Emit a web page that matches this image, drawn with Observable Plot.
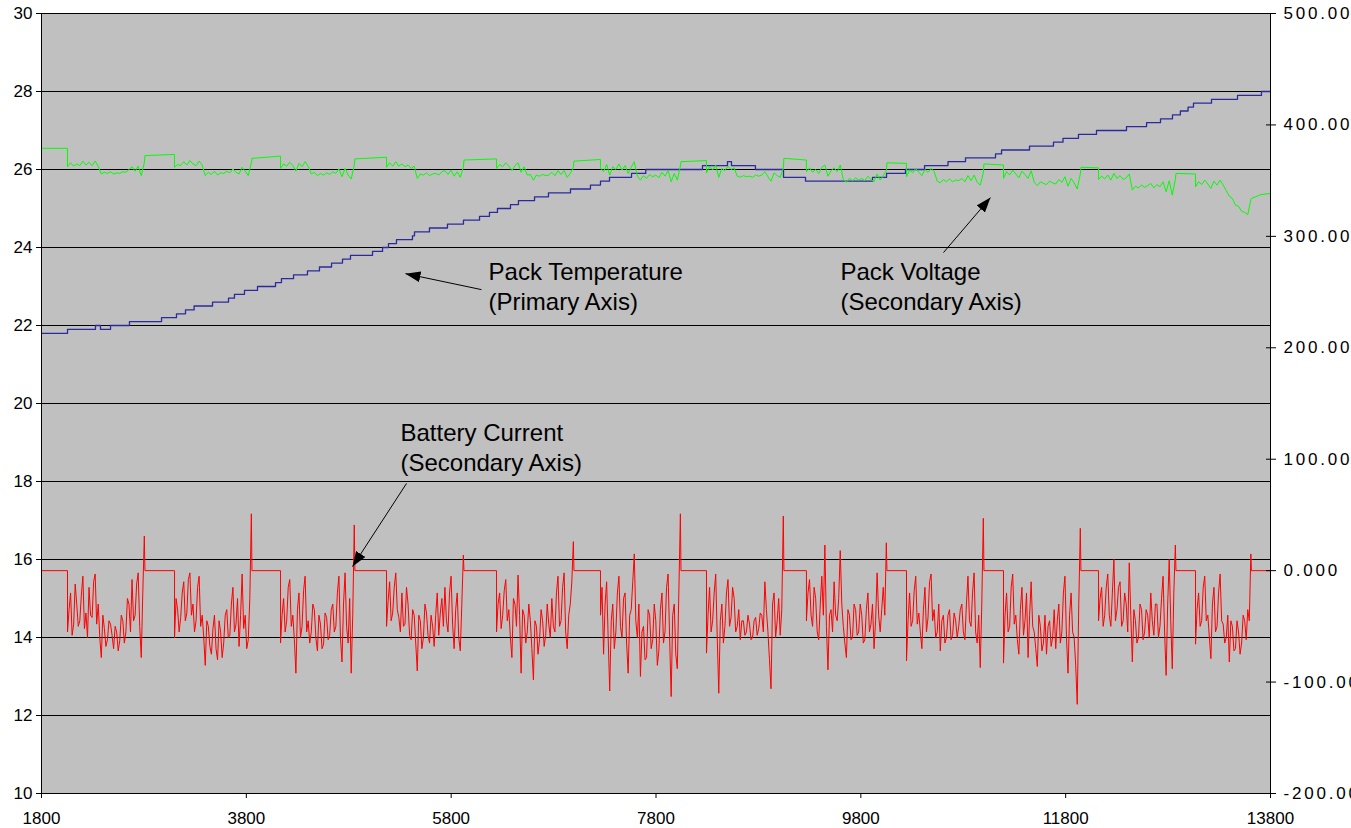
<!DOCTYPE html>
<html>
<head>
<meta charset="utf-8">
<script src="https://cdn.jsdelivr.net/npm/d3@7"></script>
<script src="https://cdn.jsdelivr.net/npm/@observablehq/plot@0.6"></script>
<style>
html, body { margin: 0; padding: 0; background: #ffffff; }
#chart { width: 1351px; height: 828px; overflow: hidden; }
</style>
</head>
<body>
<div id="chart"></div>
<script>
// ---------- axes / ticks ----------
const xTicks = [1800, 3800, 5800, 7800, 9800, 11800, 13800];
const leftTicks = [10, 12, 14, 16, 18, 20, 22, 24, 26, 28, 30];
const rightTicks = [-200, -100, 0, 100, 200, 300, 400, 500];

// ---------- Pack Temperature (primary axis), step changes [time, degC] ----------
const tempSteps = [
  [1800,21.8],[2054,21.9],[2327,22.0],[2376,21.9],[2474,22.0],[2659,22.1],[2972,22.2],[3118,22.3],
  [3206,22.4],[3290,22.5],[3470,22.6],[3626,22.7],[3684,22.8],[3782,22.9],[3909,23.0],[4085,23.1],
  [4143,23.2],[4261,23.3],[4397,23.4],[4514,23.5],[4632,23.6],[4739,23.7],[4817,23.8],[5032,23.9],
  [5130,24.0],[5188,24.1],[5266,24.2],[5422,24.3],[5442,24.4],[5588,24.5],[5764,24.6],[5920,24.7],
  [6077,24.8],[6174,24.9],[6252,25.0],[6379,25.1],[6457,25.2],[6614,25.3],[6750,25.4],[6965,25.5],
  [7160,25.6],[7258,25.7],[7346,25.8],[7561,25.9],[7700,26.0],[8254,26.1],[8498,26.2],[8537,26.1],
  [8771,26.0],[9045,25.8],[9260,25.7],[9914,25.8],[10051,25.9],[10236,26.0],[10422,26.1],[10651,26.2],
  [10822,26.3],[11115,26.4],[11174,26.5],[11447,26.6],[11681,26.7],[11774,26.8],[11925,26.9],[12101,27.0],
  [12394,27.1],[12590,27.2],[12726,27.3],[12843,27.4],[12920,27.5],[12995,27.6],[13048,27.7],[13224,27.8],
  [13478,27.9],[13712,28.0],[13800,28.0]
];

// ---------- drive periods (secondary axis series) ----------
const driveStart = [2054, 3099, 4134, 5169, 6243, 7258, 8293, 9269, 10246, 11193, 12121, 13068];

// battery current [A], one reading every 15 s during each drive
const currentStep = 15;
const driveCurrent = [
  [-55,-35,-20,-58,-48,-12,-30,-50,-45,-22,-5,-52,-38,-60,-15,-40,-42,-10,-3,-48,-30,-60,-78,-40,-52,-68,-62,-45,-48,-58,-70,-50,-55,-72,-63,-40,-45,-65,-55,-25,-30,-55,-8,-45,-40,-12,-2,-50,-78,-20,31],
  [-60,-25,-35,-55,-42,-20,-10,-45,-38,-8,-2,-40,-30,-55,-45,-15,-5,-50,-40,-60,-85,-45,-50,-68,-75,-52,-40,-70,-80,-45,-55,-78,-65,-40,-35,-60,-58,-30,-15,-55,-48,-25,-68,-40,-3,-52,-40,-70,-62,-25,51],
  [-65,-40,-25,-55,-45,-15,-8,-50,-40,-62,-92,-35,-20,-60,-50,-18,-5,-55,-45,-65,-55,-30,-35,-60,-72,-40,-48,-70,-66,-38,-42,-62,-58,-35,-30,-55,-50,-20,-5,-60,-82,-30,-2,-50,-65,-25,-92,-40,41],
  [-50,-28,-10,-45,-38,-15,-2,-35,-42,-55,-20,-50,-48,-15,-30,-58,-62,-35,-40,-65,-90,-40,-45,-70,-60,-30,-38,-58,-65,-40,-50,-68,-40,-20,-58,-38,-25,-50,-15,-45,-55,-20,-5,-48,-70,-35,-20,-60,-72,-30,14],
  [-55,-30,-20,-52,-40,-18,-8,-45,-35,-60,-78,-25,-30,-50,-4,-40,-92,-35,-40,-65,-55,-30,-45,-70,-98,-45,-50,-75,-62,-35,-45,-68,-58,-30,-48,-60,-25,-50,-55,-20,-5,-50,-45,-15,-2,-55,-70,-40,-30,-10,26],
  [-40,-15,-75,-30,-10,-60,-108,-45,-30,-70,-55,-20,-5,-50,-60,-25,-20,-65,-92,-40,-35,-10,15,-45,-60,-30,-95,-55,-50,-80,-78,-35,-40,-70,-62,-30,-45,-85,-72,-35,-20,-65,-55,-15,-3,-60,-113,-40,-30,-75,-88,-20,51],
  [-74,-40,-15,-55,-45,-20,-3,-60,-110,-45,-30,-65,-50,-20,-8,-50,-42,-15,-25,-55,-50,-35,-62,-45,-45,-58,-55,-40,-48,-62,-60,-45,-42,-58,-52,-38,-40,-55,-10,-35,-55,-80,-106,-30,-20,-60,-45,-25,-58,-35,49],
  [-45,-20,-8,-40,-50,-15,-25,-55,-62,-30,-5,-40,23,-50,-89,-40,-35,-55,-10,-40,-45,-25,18,-30,-50,-65,-78,-35,-40,-62,-60,-30,-35,-58,-55,-30,-40,-65,-62,-35,-20,-55,-48,-30,-70,-45,-2,-40,-55,-35,-15,-40,25],
  [-81,-45,-20,-50,-45,-18,-5,-48,-38,-55,-70,-35,-15,-55,-42,-10,-3,-45,-35,-60,-55,-30,-72,-45,-40,-65,-60,-40,-35,-62,-58,-38,-45,-60,-50,-35,-30,-55,-62,-30,-5,-45,-50,-20,-2,-55,-65,-40,-87,-30,47],
  [-83,-40,-20,-55,-50,-15,-3,-48,-40,-62,-75,-35,-15,-58,-45,-20,-78,-40,-10,-50,-55,-70,-86,-40,-50,-72,-65,-40,-75,-50,-45,-68,-60,-35,-70,-45,-30,-65,-55,-20,-5,-60,-92,-40,-20,-55,-60,-85,-120,-30,38],
  [-45,-25,-15,-50,-40,-15,-3,-40,-50,-20,10,-45,-35,-15,-10,-50,-45,-20,-30,-55,7,-40,-82,-35,-45,-65,-60,-30,-35,-62,-55,-35,-40,-60,-20,-45,-58,-30,-30,-60,-50,-25,-5,-55,-94,-30,10,-45,-88,-20,23],
  [-66,-35,-20,-50,-45,-15,-5,-45,-40,-60,-79,-30,-15,-55,-50,-20,-3,-45,-48,-65,-60,-40,-82,-45,-50,-72,-70,-45,-55,-75,-65,-40,-45,-62,-35,-45,15]
];

// pack voltage [V], one reading every 30 s during each drive
const voltageStep = 30;
const driveVoltage = [
  [362.5,366,363,365,363.5,367.5,364,366.5,363.5,367.5,363,356,357.5,356.5,358,356,357,356.5,358,357.5,360,362.5,358.5,363,354.5,366],
  [362,364.5,363.5,367,364,368,365,363.5,367.5,364,354.5,357.5,355.5,358.5,355,357,356.5,358.5,357,360.5,357.5,356,362,358.5,354.5,366],
  [361,365,363,366.5,363.5,358.5,365.5,362.5,367,363,356,357.5,354.5,356.5,355,357,355.5,358,356.5,360.5,353.5,361,355,351.5,364],
  [362,366,363,367,363,365,362.5,364,361,363,352,356,355,357,354.5,356,356.5,355,358,359,355.5,359.5,354,358,353,362],
  [361,364.5,362.5,366,363,359,363.5,366,357.5,362.5,355,355.5,350.5,355,354,355.5,354.5,355,357.5,354.5,359,355.5,359,353,356.5,362],
  [361.5,358,364.5,355,362.5,360,365,359.5,363.5,356.5,362,367,354,350.5,354.5,352,355.5,353.5,355,352.5,357.5,354,359,349,356.5,350.5,363],
  [357,362.5,359.5,364,353,361,359,363,360,361.5,354,353,354.5,353.5,354,353,355,354,355,358,353.5,349.5,357,354.5,353,361],
  [358,361.5,357.5,360,356.5,362,364,354,359,361.5,358,364,351,348.5,352,350,352.5,350.5,352,350,354,351,349,356,350.5,354.5,359],
  [353.5,359.5,357,361,357.5,354.5,360,357.5,361,358,349.5,348,351,349,351.5,349,350.5,350,352,349,354.5,350,355,348.5,346,357],
  [352,358,355,359.5,356,352.5,358.5,355.5,352,359,348.5,345.5,349,347.5,346.5,349.5,348,347,351,348.5,353.5,345,352,348,342.5,356],
  [351,354,351.5,355,350.5,356.5,352,354.5,351,352.5,356,341.5,345,343.5,346,344,345.5,347.5,343.5,346.5,344.5,349,340,350,337,351],
  [344.5,349,346.5,350.5,347,343,349.5,346,350.5,346,341,336,334,328,327,322.5,321.5,319.5,333]
];

// pack voltage during rest periods (before, between and after drives)
const restVoltage = [
  [379,379],[372.5,373.5],[370,372],[369.5,371],[368.5,369.5],[367.5,369],[367,368],
  [370,368.5],[366,365.5],[365,364],[362,361.5],[356.5,356],[334,337.5,338.5]
];

// ---------- annotations ----------
const noteText = ["Pack Temperature\n(Primary Axis)", "Pack Voltage\n(Secondary Axis)", "Battery Current\n(Secondary Axis)"];
const noteX = [6165, 9601, 5305];
const noteY = [23.03, 23.03, 18.90];
const arrowFrom = [[6096, 22.92], [10607, 23.87], [5364, 17.95]];
const arrowTo = [[5354, 23.33], [11066, 25.28], [4837, 15.82]];

// ---------- build tables ----------
const tStart = xTicks[0], tEnd = xTicks[xTicks.length - 1];
const secMin = rightTicks[0], secMax = rightTicks[rightTicks.length - 1];
const priMin = leftTicks[0], priMax = leftTicks[leftTicks.length - 1];
const toPrimary = v => priMin + (v - secMin) * (priMax - priMin) / (secMax - secMin);
const fromPrimary = y => secMin + (y - priMin) * (secMax - secMin) / (priMax - priMin);

const tempRows = tempSteps.map(([t, v]) => ({t, v}));
const currentRows = [];
const voltageRows = [];
function pushRest(vals, a, b) {
  vals.forEach((v, j) => voltageRows.push({t: a + j * (b - a) / (vals.length - 1), v}));
}
currentRows.push({t: tStart, v: 0});
pushRest(restVoltage[0], tStart, driveStart[0]);
driveStart.forEach((s, i) => {
  const cur = driveCurrent[i], vol = driveVoltage[i];
  currentRows.push({t: s, v: 0});
  cur.forEach((v, k) => currentRows.push({t: s + k * currentStep, v}));
  vol.forEach((v, k) => voltageRows.push({t: s + k * voltageStep, v}));
  const end = s + (cur.length - 1) * currentStep;
  currentRows.push({t: end + 6, v: 0});
  const next = i + 1 < driveStart.length ? driveStart[i + 1] : tEnd;
  pushRest(restVoltage[i + 1], end + 6, next);
});
currentRows.push({t: tEnd, v: 0});

const notes = noteText.map((text, i) => ({text, x: noteX[i], y: noteY[i]}));
const arrows = arrowFrom.map((f, i) => ({x1: f[0], y1: f[1], x2: arrowTo[i][0], y2: arrowTo[i][1]}));

const chart = Plot.plot({
  width: 1351,
  height: 828,
  marginLeft: 41,
  marginRight: 81,
  marginTop: 13,
  marginBottom: 35,
  x: {domain: [tStart, tEnd]},
  y: {domain: [priMin, priMax]},
  style: {fontFamily: "'Liberation Sans', Arial, sans-serif", fontSize: "17px", color: "black", background: "white", overflow: "hidden"},
  marks: [
    Plot.frame({fill: "#c0c0c0", stroke: "none"}),
    Plot.gridY(leftTicks.slice(1), {stroke: "#000000", strokeOpacity: 1, strokeWidth: 1}),
    Plot.line(tempRows, {x: "t", y: "v", curve: "step-after", stroke: "#2a2a9c", strokeWidth: 1.3}),
    Plot.line(voltageRows, {x: "t", y: d => toPrimary(d.v), stroke: "#00ff00", strokeWidth: 1}),
    Plot.line(currentRows, {x: "t", y: d => toPrimary(d.v), stroke: "#ff0000", strokeWidth: 1}),
    Plot.ruleY([priMin], {stroke: "#000000", strokeWidth: 1}),
    Plot.ruleX([tStart], {stroke: "#000000", strokeWidth: 1}),
    Plot.ruleX([tEnd], {stroke: "#000000", strokeWidth: 1}),
    Plot.axisY(leftTicks, {anchor: "left", tickSize: 5, tickPadding: 4, label: null, tickFormat: d => String(d)}),
    Plot.axisY(rightTicks.map(toPrimary), {anchor: "right", tickSize: 5, tickPadding: 8, label: null,
      tickFormat: d => Math.round(fromPrimary(d)).toFixed(3)}),
    Plot.axisY(rightTicks.map(toPrimary), {anchor: "right", tickSize: 5, dx: -5, label: null, tickFormat: () => ""}),
    Plot.axisX(xTicks, {anchor: "bottom", tickSize: 5, tickPadding: 13, label: null, tickFormat: d => String(d)}),
    Plot.link(arrows, {x1: "x1", y1: "y1", x2: "x2", y2: "y2", stroke: "#000000", strokeWidth: 1}),
    Plot.text(notes, {x: "x", y: "y", text: "text", textAnchor: "start", lineAnchor: "middle", fontSize: 24, lineHeight: 1.25, fill: "#000000"})
  ]
});
document.getElementById("chart").appendChild(chart);

const svg = d3.select(chart);
// wider spacing of the secondary-axis labels, as in the original
svg.selectAll("text")
  .filter(function () { return /^-?\d+\.000$/.test(this.textContent.trim()); })
  .attr("letter-spacing", "2.8")
  .style("letter-spacing", "2.8px");
// filled arrowheads for the annotation arrows
const marker = svg.append("defs").append("marker")
  .attr("id", "ahead").attr("viewBox", "0 0 15 11").attr("refX", 15).attr("refY", 5.5)
  .attr("markerWidth", 15).attr("markerHeight", 11).attr("markerUnits", "userSpaceOnUse").attr("orient", "auto");
marker.append("path").attr("d", "M0,0L15,5.5L0,11Z").attr("fill", "#000000");
svg.selectAll('g[aria-label="link"] path').attr("marker-end", "url(#ahead)");
</script>
</body>
</html>
